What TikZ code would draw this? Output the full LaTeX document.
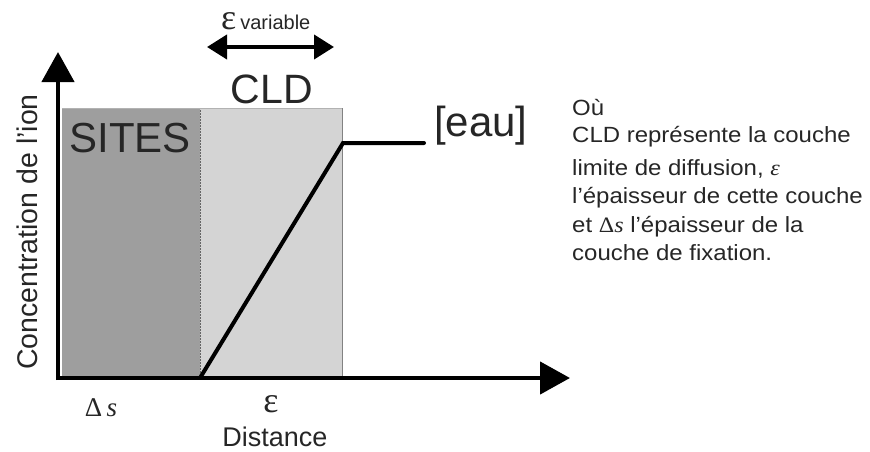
\documentclass[tikz,border=0pt]{standalone}
\usepackage{fontspec}
\setmainfont{Liberation Sans}
\newfontfamily\serifgr{Liberation Serif}
\newfontfamily\notefont[FakeStretch=1.09]{Liberation Sans}
\newfontfamily\noteserif[FakeStretch=1.09]{Liberation Serif}
\usetikzlibrary{arrows.meta}
\definecolor{sitesgray}{RGB}{158,158,158}
\definecolor{cldgray}{RGB}{212,212,212}
\definecolor{edgegray}{RGB}{130,130,130}
\tikzset{
  axisline/.style={line width=4.5pt, -{Triangle[length=30pt,width=32pt]}},
  profile/.style={line width=4pt, line cap=round},
  dblarrow/.style={line width=4pt, {Triangle[length=20pt,width=24pt]}-{Triangle[length=20pt,width=24pt]}},
  txt/.style={inner sep=0pt, text=black!85},
  noteline/.style={txt, anchor=base west, font=\notefont\fontsize{22}{22}\selectfont},
}
\begin{document}
\begin{tikzpicture}[x=1pt,y=-1pt]
\useasboundingbox (0,0) rectangle (870,452);
% regions
\node[anchor=north west, minimum width=138pt, minimum height=270pt, inner sep=0pt, fill=sitesgray, draw=none] (sites) at (62,108) {};
\node[anchor=north west, minimum width=142pt, minimum height=270pt, inner sep=0pt, fill=cldgray, draw=none] (cld) at (200,108) {};
\draw[edgegray, line width=1.5pt] (cld.north east) -- (cld.south east);
\draw[black!60, line width=0.5pt, densely dotted] (sites.north east) -- (sites.south east);
\draw[black!30, line width=0.8pt] (sites.north west) -- (cld.north east);
% axes
\coordinate (O) at (58,378);
\coordinate (Ytop) at (58,52);
\coordinate (Xend) at (570,378);
\draw[axisline] (58,380) -- (Ytop);
\draw[axisline] (56,378) -- (Xend);
% profile
\coordinate (p0) at (200,378);
\coordinate (p1) at (343,143);
\coordinate (p2) at (424,143);
\draw[profile] (p0) -- (p1) -- (p2);
% labels
\node[txt, font=\fontsize{42}{42}\selectfont] (sitesl) at (130,138) {SITES};
\node[txt, font=\fontsize{41}{41}\selectfont] (cldl) at (272,89) {CLD};
\node[txt, font=\fontsize{42}{42}\selectfont, anchor=west] (eau) at (434,126) {[eau]};
\coordinate (da) at (207,47);
\coordinate (db) at (334,47);
\draw[dblarrow] (da) -- (db);
\node[txt, anchor=base west] (epsv) at (221,30) {{\serifgr\fontsize{36}{36}\selectfont ε}\hspace{4pt}{\fontsize{20}{20}\selectfont variable}};
\node[txt, font=\fontsize{28.5}{28.5}\selectfont, rotate=90] (ylab) at (27,232) {Concentration de l'ion};
\node[txt] (ds) at (101,408) {\serifgr\fontsize{27}{27}\selectfont Δ\,\itshape s};
\node[txt] (eps) at (271,404) {\serifgr\fontsize{36}{36}\selectfont ε};
\node[txt, font=\fontsize{27}{27}\selectfont] (dist) at (275,437) {Distance};
% note
\node[noteline] (note1) at (572,115) {Où};
\node[noteline] (note2) at (572,142) {CLD représente la couche};
\node[noteline] (note3) at (572,175) {limite de diffusion, {\noteserif\itshape ε}};
\node[noteline] (note4) at (572,203) {l’épaisseur de cette couche};
\node[noteline] (note5) at (572,232) {et {\noteserif Δ\itshape s} l’épaisseur de la};
\node[noteline] (note6) at (572,260) {couche de fixation.};
\end{tikzpicture}
\end{document}
